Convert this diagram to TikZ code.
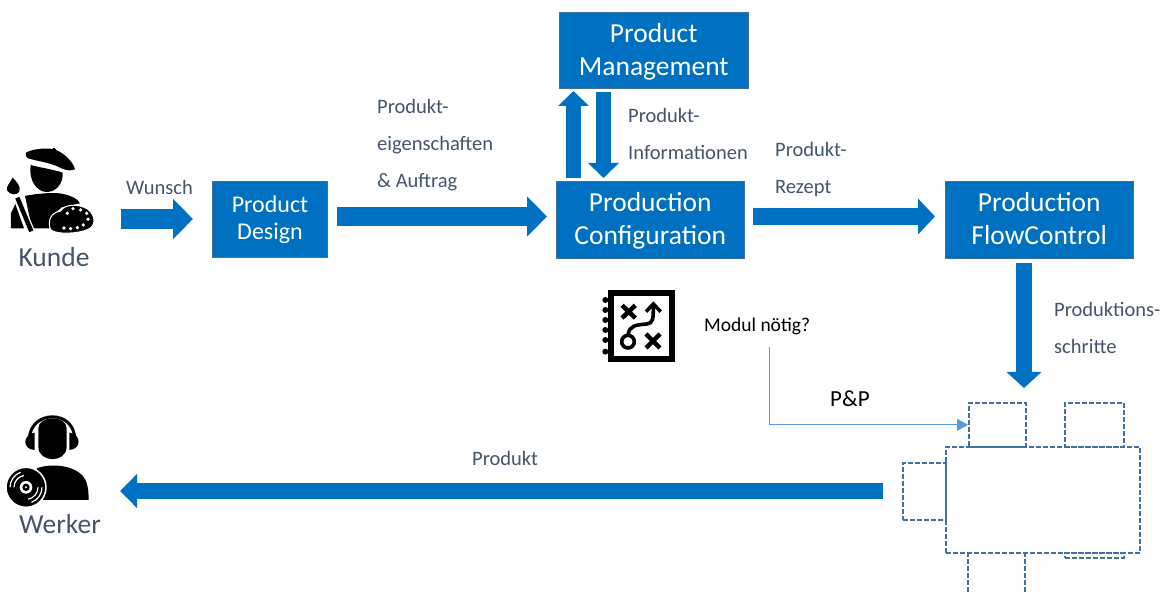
\documentclass[tikz,border=0pt]{standalone}
\usepackage{fontspec}
\setmainfont{Carlito}
\usetikzlibrary{arrows.meta,calc}
\definecolor{boxblue}{HTML}{0070C0}
\definecolor{boxedge}{HTML}{41719C}
\definecolor{slate}{HTML}{44546A}
\definecolor{thin}{HTML}{5B9BD5}
\tikzset{
  x=1pt,y=-1pt,
  blockbox/.style={draw=boxedge,line width=1pt,fill=boxblue,text=white,align=center,anchor=north west,inner sep=0pt,font=\fontsize{24}{33}\selectfont},
  dashbox/.style={draw=boxedge,line width=1.7pt,dash pattern=on 5pt off 2pt,anchor=north west,inner sep=0pt},
  dashline/.style={draw=boxedge,line width=1.7pt,dash pattern=on 5pt off 2pt},
  lab/.style={text=slate,align=left,anchor=west,inner sep=0pt,font=\fontsize{20.5}{37}\selectfont},
  blackl/.style={text=black,anchor=west,inner sep=0pt,font=\fontsize{19.5}{25}\selectfont},
  iconlab/.style={text=slate,anchor=center,inner sep=0pt,font=\fontsize{27.5}{30}\selectfont},
  bigarrow/.style n args={3}{draw=boxblue,line width=#1,-{Triangle[length=#2,width=#3]}},
  icon/.style={fill=black,draw=none},
  zoomA/.style={shift={(0,130)},x=.3333pt,y=-.3333pt},
  zoomB/.style={shift={(0,400)},x=.3333pt,y=-.3333pt},
  zoomC/.style={shift={(590,280)},x=.3333pt,y=-.3333pt},
}
\begin{document}
\begin{tikzpicture}
\useasboundingbox (0,0) rectangle (1167,593);
% boxes
\node[blockbox,minimum width=115pt,minimum height=76pt] (design) at (212,181) {Product\\[-6pt]Design};
\node[blockbox,font=\fontsize{27.5}{34}\selectfont,minimum width=187.5pt,minimum height=77pt] (config) at (556,181) {\rule{0pt}{22pt}Production\\[-1pt]Configuration\rule[-6pt]{0pt}{6pt}};
\node[blockbox,font=\fontsize{27.5}{34}\selectfont,minimum width=187.5pt,minimum height=77pt] (flow) at (945,181) {\rule{0pt}{22pt}Production\\[-1pt]FlowControl\rule[-6pt]{0pt}{6pt}};
\node[blockbox,font=\fontsize{27.5}{33}\selectfont,minimum width=188.5pt,minimum height=76pt] (mgmt) at (559,12) {\rule{0pt}{21pt}Product\\Management};
% machine
\node[dashbox,minimum width=194pt,minimum height=106pt] (machine) at (945,446) {};
\node[dashbox,minimum width=57pt,minimum height=44pt] (tl) at (968,402) {};
\node[dashbox,minimum width=59pt,minimum height=44pt] (tr) at (1064,402) {};
\node[dashbox,minimum width=43pt,minimum height=57pt] (lft) at (902,462) {};
\node[dashbox,minimum width=59pt,minimum height=5pt] (br) at (1064,552) {};
\draw[dashline] (968,552) -- (968,592.5) (1025,552) -- (1025,592.5);
% artist icon
\begin{scope}[zoomA]
\fill[icon] (78,68) .. controls (100,55) and (150,52) .. (168,60) .. controls (190,68) and (220,95) .. (225,118) .. controls (205,126) and (190,118) .. (170,108) .. controls (140,96) and (105,92) .. (85,85) .. controls (76,80) and (76,72) .. (78,68) -- cycle;
\fill[icon] (162,60) circle (6);
\fill[icon] (92,105) .. controls (115,112) and (160,118) .. (188,128) .. controls (190,165) and (165,186) .. (140,186) .. controls (110,186) and (85,150) .. (92,105) -- cycle;
\fill[icon] (75,198) .. controls (110,190) and (170,186) .. (190,192) .. controls (215,198) and (232,205) .. (240,220) -- (185,232) -- (150,262) -- (150,295) -- (96,295) -- cycle;
\fill[icon] (46,222) -- (33,250) -- (33,295) -- (72,295) -- cycle;
\draw[white,line width=7pt] (50,200) -- (96,308);
\draw[black,line width=4.5pt] (52,203) -- (94,304);
\fill[icon] (38,143) .. controls (30,160) and (16,170) .. (22,182) .. controls (30,196) and (52,196) .. (58,185) .. controls (64,170) and (50,155) .. (38,143) -- cycle;
\fill[icon,draw=white,line width=1pt] (148,280) .. controls (148,258) and (162,246) .. (182,243) .. controls (195,220) and (240,222) .. (264,238) .. controls (288,258) and (288,288) .. (264,298) .. controls (235,312) and (170,314) .. (153,300) .. controls (149,294) and (148,288) .. (148,280) -- cycle;
\foreach \p in {(192,294),(212,296),(232,293),(250,285),(264,268),(260,250),(242,240),(219,236),(202,250)}
  \fill[white] \p circle (5.5);
\end{scope}
\node[iconlab] (kunde) at (54,257) {Kunde};
% worker icon
\begin{scope}[zoomB]
\draw[black,line width=3pt] (88,118) .. controls (90,28) and (225,28) .. (224,118);
\fill[icon] (115,85) .. controls (115,45) and (200,45) .. (200,85) -- (200,140) .. controls (200,190) and (115,190) .. (115,140) -- cycle;
\fill[icon] (104,98) .. controls (68,103) and (65,148) .. (104,150) -- cycle;
\fill[icon] (208,98) .. controls (245,103) and (245,148) .. (208,150) -- cycle;
\fill[icon] (110,205) .. controls (150,190) and (210,195) .. (240,220) .. controls (260,235) and (266,260) .. (266,300) -- (130,300) -- cycle;
\fill[black,draw=white,line width=1.5pt] (78,262) circle (60);
\draw[white,line width=1.2pt] (42,262) arc (180:260:36) (114,262) arc (0:80:36);
\draw[white,line width=1.2pt] (30,262) arc (180:250:48) (126,262) arc (0:70:48);
\fill[white] (78,262) circle (19);
\fill[black] (78,262) circle (11);
\fill[white] (78,262) circle (3.5);
\end{scope}
\node[iconlab] (werker) at (60,524) {Werker};
% notebook icon
\begin{scope}[zoomC]
\draw[black,line width=6pt] (62,38) rectangle (245,236);
\foreach \y in {60,90,120,150,180,215} \fill[black] (46,\y) circle (9);
\draw[black,line width=4.5pt] (96,76) -- (136,114) (136,76) -- (96,114);
\draw[black,line width=4.5pt] (168,162) -- (210,204) (210,162) -- (168,204);
\draw[black,line width=3.6pt] (114,165) .. controls (118,135) and (140,135) .. (170,132) .. controls (190,130) and (190,115) .. (190,78);
\draw[black,line width=3.6pt] (168,95) -- (190,72) -- (212,95);
\draw[black,line width=3.6pt] (114,185) circle (19);
\end{scope}
% labels
\node[lab] (lwunsch) at (126,187) {Wunsch};
\node[lab,anchor=north west] (lprod) at (377,99) {Produkt-\\eigenschaften\\\&\ Auftrag};
\node[lab,anchor=north west] (linfo) at (628,108) {Produkt-\\Informationen};
\node[lab,anchor=north west] (lrez) at (775,142) {Produkt-\\Rezept};
\node[lab,anchor=north west] (lschr) at (1054,302) {Produktions-\\schritte};
\node[lab] (lprodukt) at (472,458) {Produkt};
\node[blackl] (modul) at (704,326) {Modul nötig?};
\node[blackl,font=\fontsize{23}{25}\selectfont] (pp) at (830,399) {P\&P};
\coordinate (modfoot) at (769,347);
\coordinate (wstart) at (121,219);
\coordinate (wend) at (193,219);
\coordinate (a2s) at (337,216.5);
\coordinate (a2e) at (547,216.5);
\coordinate (a3s) at (753,216.5);
\coordinate (a3e) at (935,216.5);
\coordinate (ups) at (573.5,178);
\coordinate (upe) at (573.5,91);
\coordinate (dns) at (603.5,92);
\coordinate (dne) at (603.5,178);
\coordinate (fls) at (1024,263);
\coordinate (fle) at (1024,388);
\coordinate (ols) at (883,491);
\coordinate (ole) at (120,491);
% connectors
\draw[draw=thin,line width=.8pt,-{Triangle[length=11pt,width=12pt,fill=thin]}] (modfoot) |- (tl.west);
\draw[bigarrow={20pt}{20pt}{39pt}] (wstart) -- (wend);
\draw[bigarrow={19pt}{20pt}{39pt}] (a2s) -- (a2e);
\draw[bigarrow={17pt}{17pt}{35pt}] (a3s) -- (a3e);
\draw[bigarrow={15pt}{15pt}{30pt}] (ups) -- (upe);
\draw[bigarrow={15pt}{15pt}{30pt}] (dns) -- (dne);
\draw[bigarrow={16pt}{16pt}{34pt}] (fls) -- (fle);
\draw[bigarrow={16pt}{17pt}{33pt}] (ols) -- (ole);
\end{tikzpicture}
\end{document}
